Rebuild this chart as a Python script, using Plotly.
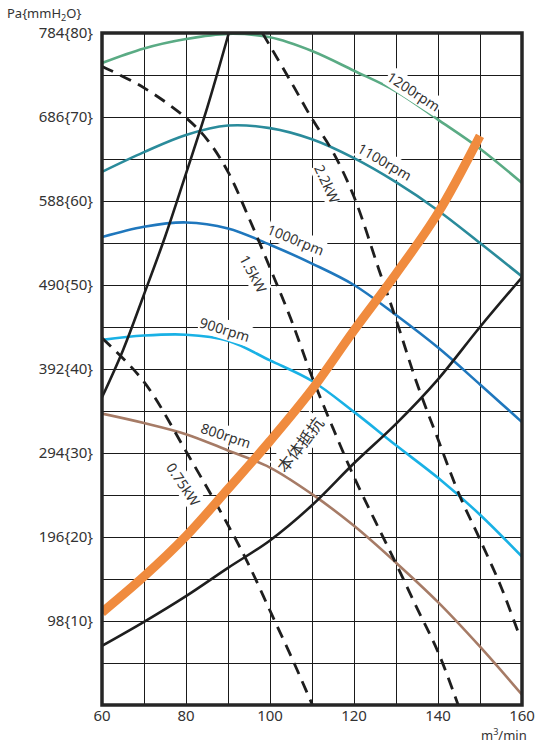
import plotly.graph_objects as go

# ---------------- data ----------------
flow = [60, 70, 80, 90, 100, 110, 120, 130, 140, 150, 160]
p1200 = [749, 766, 777, 783, 779, 763, 740, 716, 683, 649, 609]
p1100 = [622, 645, 665, 676, 673, 660, 638, 610, 577, 539, 500]
p1000 = [546, 558, 563, 556, 537, 515, 490, 455, 417, 374, 330]
p900 = [426, 431, 432, 425, 402, 378, 342, 303, 265, 222, 173]
p800 = [340, 329, 316, 297, 277, 246, 209, 166, 120, 68, 12]

sysA_x = [60, 65, 70, 75, 80, 85, 90.2]
sysA_y = [359, 414, 479, 546, 620, 696, 784]
sysB_y = [69, 97, 127, 160, 192, 233, 282, 328, 380, 441, 499]

body_x = [60, 70, 80, 90, 100, 110, 120, 130, 140, 150]
body_y = [108, 150, 197, 252, 308, 368, 437, 503, 574, 664]

kw075_x = [60, 70, 80, 90, 95, 100, 105, 110.1]
kw075_y = [428, 377, 296, 210, 163, 110, 57, 0]
kw15_x = [60, 70, 80, 85, 90, 95, 100, 105, 110, 115, 120, 125, 130, 135, 140, 144.8]
kw15_y = [745, 720, 685, 660, 622, 568, 510, 450, 383, 323, 266, 215, 165, 113, 62, 0]
kw22_x = [98.2, 105, 110, 115, 120, 126, 130, 135, 140, 145, 150, 155, 159.3]
kw22_y = [784, 727, 684, 645, 593, 507, 450, 375, 310, 246, 193, 138, 82]

x_ticks = [60, 70, 80, 90, 100, 110, 120, 130, 140, 150, 160]
x_ticktext = ["60", " ", "80", " ", "100", " ", "120", " ", "140", " ", "160"]
y_ticks = [0, 49, 98, 147, 196, 245, 294, 343, 392, 441, 490, 539, 588, 637, 686, 735, 784]
y_ticktext = [" ", " ", "98{10}", " ", "196{20}", " ", "294{30}", " ", "392{40}", " ",
              "490{50}", " ", "588{60}", " ", "686{70}", " ", "784{80}"]

FONT = "Noto Sans, DejaVu Sans, sans-serif"
TXT = "#333333"

fig = go.Figure()

def line(x, y, color, width=2.6, dash=None):
    fig.add_trace(go.Scatter(
        x=x, y=y, mode="lines",
        line=dict(color=color, width=width, shape="spline", smoothing=1.0,
                  dash=dash if dash else "solid"),
        hoverinfo="skip", showlegend=False))

line(flow, p1200, "#5aab84")
line(flow, p1100, "#2a8b9b")
line(flow, p1000, "#1f77bd")
line(flow, p900, "#19b1e5")
line(flow, p800, "#a67b66")

line(sysA_x, sysA_y, "#1e1e1e", 2.6)
line(flow, sysB_y, "#1e1e1e", 2.6)

DASH = "12px,8px"
line(kw075_x, kw075_y, "#1e1e1e", 2.8, DASH)
line(kw15_x, kw15_y, "#1e1e1e", 2.8, DASH)
line(kw22_x, kw22_y, "#1e1e1e", 2.8, DASH)

line(body_x, body_y, "#f08b3e", 9)

labels = [
    ("1200rpm", 134.3, 716, 33, 14),
    ("1100rpm", 127.3, 634, 30, 14),
    ("1000rpm", 106.1, 543, 22, 14),
    ("900rpm", 89.4, 438, 17, 14),
    ("800rpm", 89.6, 314, 18, 14),
    ("2.2kW", 113.7, 609, 65, 14),
    ("1.5kW", 96.1, 504, 62, 14),
    ("0.75kW", 79.4, 257, 56, 14),
    ("本体抵抗", 107.0, 305, -52, 16),
]
for text, x, y, ang, sz in labels:
    fig.add_annotation(
        x=x, y=y, text=text, showarrow=False, textangle=ang,
        font=dict(family=FONT if text != "本体抵抗" else "Noto Sans CJK JP",
                  size=sz, color=TXT),
        bgcolor="white", borderpad=0)

fig.add_annotation(x=-0.231, y=1.0, xref="paper", yref="paper", yshift=19,
                   text="Pa{mmH<sub>2</sub>O}", showarrow=False,
                   xanchor="left", yanchor="middle",
                   font=dict(family=FONT, size=13, color=TXT))
fig.add_annotation(x=1.017, y=0.0, xref="paper", yref="paper", yshift=-29,
                   text="m<sup>3</sup>/min", showarrow=False,
                   xanchor="right", yanchor="middle",
                   font=dict(family=FONT, size=13, color=TXT))

fig.add_shape(type="rect", xref="paper", yref="paper", x0=0, x1=1, y0=0, y1=1,
              line=dict(color="#262626", width=3.5), layer="above")

fig.update_xaxes(range=[60, 160], tickmode="array", tickvals=x_ticks,
                 ticktext=x_ticktext, showgrid=True, gridcolor="#1a1a1a",
                 gridwidth=1.4, zeroline=False, ticks="", showline=False,
                 automargin=False, ticklabelstandoff=0,
                 tickfont=dict(family=FONT, size=15, color=TXT))
fig.update_yaxes(range=[0, 784], tickmode="array", tickvals=y_ticks,
                 ticktext=y_ticktext, showgrid=True, gridcolor="#1a1a1a",
                 gridwidth=1.4, zeroline=False, ticks="", showline=False,
                 automargin=False, ticklabelstandoff=8,
                 tickfont=dict(family=FONT, size=15, color=TXT))

fig.update_layout(width=541, height=742, autosize=False,
                  margin=dict(l=102, r=19, t=33, b=37, pad=0),
                  plot_bgcolor="white", paper_bgcolor="white",
                  showlegend=False)

fig.write_html(
    "out.html",
    config={"displayModeBar": False, "responsive": False},
    post_script=("document.body.style.margin='0';"
                 "document.body.style.overflow='hidden';"
                 "var gd=document.getElementById('{plot_id}');"
                 "Plotly.relayout(gd,{width:541,height:742});"))
